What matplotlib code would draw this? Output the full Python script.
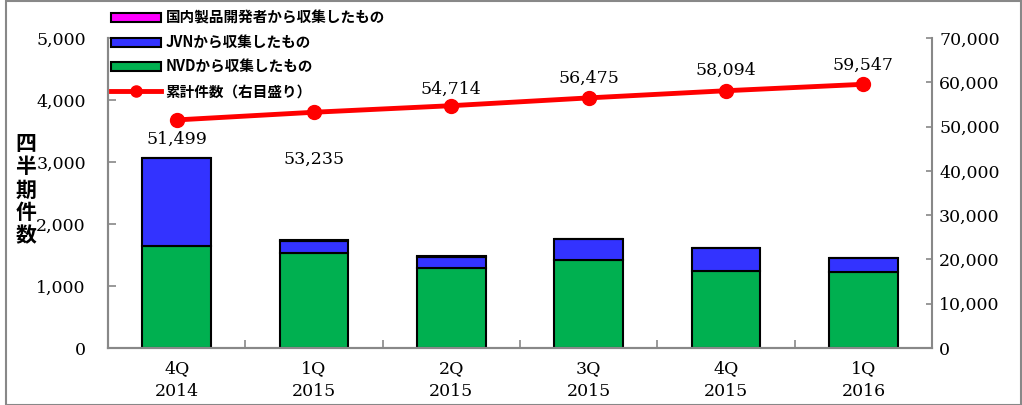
import numpy as np
import matplotlib
matplotlib.use("Agg")
import matplotlib.pyplot as plt
from matplotlib.lines import Line2D
from matplotlib.patches import Patch, Rectangle

plt.rcParams["font.family"] = ["DejaVu Serif", "Noto Sans CJK JP"]

quarters = ["4Q\n2014", "1Q\n2015", "2Q\n2015", "3Q\n2015", "4Q\n2015", "1Q\n2016"]
nvd = [1649, 1532, 1289, 1422, 1246, 1219]
jvn = [1415, 197, 186, 334, 360, 230]
domestic = [6, 7, 4, 5, 13, 4]
cumulative = [51499, 53235, 54714, 56475, 58094, 59547]
label_offsets = [-14, -34, 12, 14, 15, 14]  # points, label centre relative to marker

JP = ["Noto Sans CJK JP"]

fig = plt.figure(figsize=(10.22, 4.05), dpi=100)
ax = fig.add_axes([0.1057, 0.1407, 0.8063, 0.7655])
ax2 = ax.twinx()

x = np.arange(len(quarters))
w = 0.5
bottom2 = np.array(nvd) + np.array(jvn)
ax.bar(x, nvd, w, color="#00B050", edgecolor="black", lw=1.5, zorder=2)
ax.bar(x, jvn, w, bottom=nvd, color="#3333FF", edgecolor="black", lw=1.5, zorder=2)
ax.bar(x, domestic, w, bottom=bottom2, color="#FF00FF", edgecolor="black", lw=1.5, zorder=2)

ax2.plot(x, cumulative, color="#FF0000", lw=3.5, marker="o", ms=10, zorder=3)
for xi, v, off in zip(x, cumulative, label_offsets):
    ax2.annotate(f"{v:,}", (xi, v), xytext=(0, off), textcoords="offset points",
                 ha="center", va="center", fontsize=12.5)

ax.set_xlim(-0.5, len(quarters) - 0.5)
ax.set_ylim(0, 5000)
ax2.set_ylim(0, 70000)
ax.set_yticks(range(0, 5001, 1000))
ax2.set_yticks(range(0, 70001, 10000))
fmt = matplotlib.ticker.FuncFormatter(lambda v, p: f"{int(v):,}")
ax.yaxis.set_major_formatter(fmt)
ax2.yaxis.set_major_formatter(fmt)

ax.set_xticks(x)
ax.set_xticklabels(quarters, fontsize=12.5, linespacing=1.45)
ax.set_xticks(np.arange(0.5, len(quarters) - 1, 1), minor=True)
ax.tick_params(axis="x", which="major", length=0, pad=9)
ax.tick_params(axis="x", which="minor", direction="in", length=6, color="#888888", width=1.2)
ax.tick_params(axis="y", direction="in", length=6, color="#888888", width=1.2, labelsize=12.5, pad=16)
ax2.tick_params(axis="y", direction="in", length=4, color="#888888", width=1.2, labelsize=12.5, pad=5)

for a in (ax, ax2):
    a.spines["top"].set_visible(False)
    for s in ("left", "right", "bottom"):
        a.spines[s].set_color("#888888")
        a.spines[s].set_linewidth(1.5)
ax.spines["right"].set_visible(False)

fig.text(0.025, 0.531, "四\n半\n期\n件\n数", family=JP, fontsize=15, fontweight="bold",
         ha="center", va="center", linespacing=1.12)

handles = [
    Patch(facecolor="#FF00FF", edgecolor="black", lw=1.5),
    Patch(facecolor="#3333FF", edgecolor="black", lw=1.5),
    Patch(facecolor="#00B050", edgecolor="black", lw=1.5),
    Line2D([], [], color="#FF0000", lw=3.5, marker="o", ms=8),
]
labels = ["国内製品開発者から収集したもの", "JVNから収集したもの", "NVDから収集したもの", "累計件数（右目盛り）"]
leg = fig.legend(handles, labels, loc="upper left", bbox_to_anchor=(0.103, 0.99),
                 frameon=False, handlelength=3.4, handleheight=0.55, handletextpad=0.35,
                 labelspacing=0.58, borderaxespad=0,
                 prop={"family": JP, "weight": "bold", "size": 10.5})

fig.patches.append(Rectangle((0.006, 0.0), 0.993, 0.997, transform=fig.transFigure,
                             fill=False, edgecolor="#888888", lw=1.5))

fig.savefig("out.png", dpi=100)
